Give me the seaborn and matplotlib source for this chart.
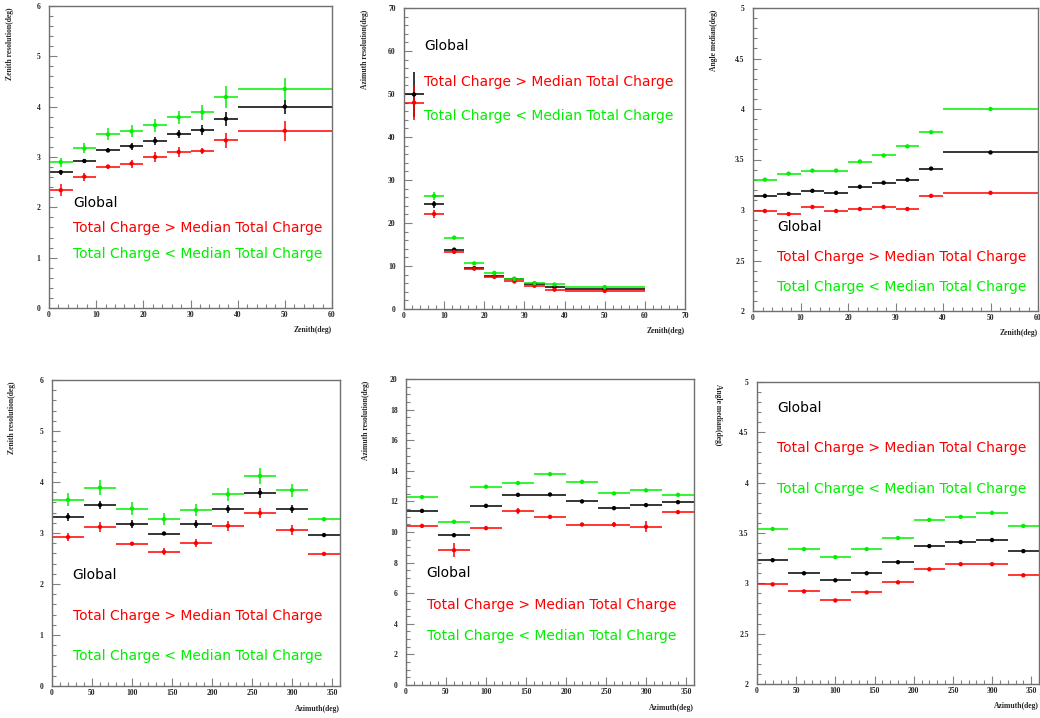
import numpy as np
import pandas as pd
import matplotlib
matplotlib.use("Agg")
import matplotlib.pyplot as plt
import seaborn as sns
from matplotlib.ticker import MultipleLocator

sns.set_theme(style="white")
plt.rcParams['font.family'] = ['DejaVu Sans']

# ---------------------------------------------------------------- data
zenith_edges = [0, 5, 10, 15, 20, 25, 30, 35, 40, 60]
azimuth_edges = [0, 40, 80, 120, 160, 200, 240, 280, 320, 360]

series_names = ["Global",
                "Total Charge > Median Total Charge",
                "Total Charge < Median Total Charge"]

# Zenith resolution vs zenith
zr_zen_global = [2.70, 2.92, 3.13, 3.21, 3.32, 3.46, 3.53, 3.76, 4.00]
zr_zen_global_err = [0.05, 0.04, 0.04, 0.07, 0.08, 0.08, 0.10, 0.14, 0.14]
zr_zen_high = [2.34, 2.61, 2.81, 2.87, 3.00, 3.10, 3.12, 3.33, 3.52]
zr_zen_high_err = [0.12, 0.08, 0.04, 0.08, 0.09, 0.10, 0.06, 0.15, 0.20]
zr_zen_low = [2.90, 3.17, 3.45, 3.51, 3.63, 3.79, 3.89, 4.19, 4.35]
zr_zen_low_err = [0.09, 0.10, 0.12, 0.12, 0.13, 0.13, 0.15, 0.22, 0.21]

# Azimuth resolution vs zenith
ar_zen_global = [49.9, 24.4, 13.8, 9.5, 7.6, 7.0, 5.9, 5.1, 4.65]
ar_zen_global_err = [5.3, 0.8, 0.3, 0.3, 0.3, 0.3, 0.2, 0.2, 0.2]
ar_zen_high = [48.0, 22.1, 13.3, 9.4, 7.5, 6.4, 5.4, 4.5, 4.2]
ar_zen_high_err = [4.0, 1.0, 0.4, 0.3, 0.3, 0.3, 0.2, 0.2, 0.2]
ar_zen_low = [np.nan, 26.3, 16.6, 10.6, 8.4, 7.0, 6.0, 5.7, 5.1]
ar_zen_low_err = [0.0, 1.0, 0.3, 0.3, 0.3, 0.3, 0.2, 0.2, 0.2]

# Angle median vs zenith
am_zen_global = [3.14, 3.16, 3.19, 3.17, 3.23, 3.27, 3.30, 3.41, 3.57]
am_zen_high = [2.99, 2.96, 3.03, 2.99, 3.01, 3.03, 3.01, 3.14, 3.17]
am_zen_low = [3.30, 3.36, 3.39, 3.39, 3.48, 3.54, 3.63, 3.77, 4.00]

# Zenith resolution vs azimuth
zr_az_global = [3.32, 3.55, 3.17, 2.99, 3.17, 3.47, 3.79, 3.47, 2.96]
zr_az_global_err = [0.08, 0.08, 0.08, 0.03, 0.08, 0.08, 0.10, 0.08, 0.03]
zr_az_high = [2.92, 3.12, 2.79, 2.63, 2.80, 3.14, 3.39, 3.06, 2.59]
zr_az_high_err = [0.08, 0.10, 0.03, 0.07, 0.08, 0.10, 0.10, 0.10, 0.03]
zr_az_low = [3.65, 3.89, 3.48, 3.27, 3.45, 3.76, 4.12, 3.84, 3.27]
zr_az_low_err = [0.13, 0.15, 0.12, 0.12, 0.12, 0.13, 0.15, 0.13, 0.03]

# Azimuth resolution vs azimuth
ar_az_global = [11.38, 9.79, 11.71, 12.43, 12.45, 12.00, 11.56, 11.76, 11.95]
ar_az_global_err = [0.1, 0.12, 0.1, 0.1, 0.1, 0.1, 0.1, 0.1, 0.1]
ar_az_high = [10.40, 8.81, 10.25, 11.38, 10.99, 10.49, 10.49, 10.34, 11.30]
ar_az_high_err = [0.1, 0.45, 0.15, 0.2, 0.15, 0.1, 0.15, 0.35, 0.1]
ar_az_low = [12.28, 10.67, 12.96, 13.20, 13.78, 13.28, 12.52, 12.72, 12.43]
ar_az_low_err = [0.1, 0.12, 0.1, 0.1, 0.1, 0.1, 0.1, 0.1, 0.1]

# Angle median vs azimuth
am_az_global = [3.23, 3.10, 3.03, 3.10, 3.21, 3.37, 3.41, 3.43, 3.32]
am_az_high = [2.99, 2.92, 2.83, 2.91, 3.01, 3.14, 3.19, 3.19, 3.08]
am_az_low = [3.54, 3.34, 3.26, 3.34, 3.45, 3.63, 3.66, 3.70, 3.57]

small_err = [0.008] * 9

colors = {series_names[0]: "#000000",
          series_names[1]: "#ff0000",
          series_names[2]: "#00f000"}

tick_font = dict(family="Liberation Serif", weight="bold", size=5.5)
W, H = 1040, 718


def frame(left, right, top, bottom):
    return [left / W, 1 - bottom / H, (right - left) / W, (bottom - top) / H]


def draw_panel(ax, edges, values, errors, xlim, ylim, xmaj, xmin, ymaj, ymin,
               xlabel, ylabel, text_x, text_y, ylabel_rot=90):
    edges = np.asarray(edges, dtype=float)
    centers = 0.5 * (edges[:-1] + edges[1:])
    half = 0.5 * np.diff(edges)

    rows = []
    for name, vals in zip(series_names, values):
        for c, v in zip(centers, vals):
            rows.append({"x": c, "y": v, "series": name})
    df = pd.DataFrame(rows)

    for name, vals, errs in zip(series_names, values, errors):
        ax.errorbar(centers, vals, xerr=half, yerr=errs, fmt="none",
                    ecolor=colors[name], elinewidth=1.1, capsize=0, zorder=2)
    sns.scatterplot(data=df, x="x", y="y", hue="series", palette=colors,
                    hue_order=series_names, marker="o", s=10, linewidth=0,
                    legend=False, ax=ax, zorder=3)

    ax.set_xlim(*xlim)
    ax.set_ylim(*ylim)
    ax.xaxis.set_major_locator(MultipleLocator(xmaj))
    ax.xaxis.set_minor_locator(MultipleLocator(xmin))
    ax.yaxis.set_major_locator(MultipleLocator(ymaj))
    ax.yaxis.set_minor_locator(MultipleLocator(ymin))
    ax.tick_params(which="both", direction="in", top=False, right=False,
                   left=True, bottom=True, color="#808080", width=0.8)
    ax.tick_params(which="major", length=5.5)
    ax.tick_params(which="minor", length=3)
    ax.tick_params(axis="y", which="major", pad=6)
    ax.tick_params(axis="x", which="major", pad=2)
    ax.set_xticklabels([f"{t:g}" for t in ax.get_xticks()], fontdict=tick_font)
    ax.set_yticklabels([f"{t:g}" for t in ax.get_yticks()], fontdict=tick_font)
    ax.set_xlim(*xlim)
    ax.set_ylim(*ylim)
    ax.set_xlabel("")
    ax.set_ylabel("")
    for s in ax.spines.values():
        s.set_color("#707070")
        s.set_linewidth(1.0)
        s.set_visible(True)

    ax.text(1.0, -0.074, xlabel, transform=ax.transAxes, ha="right",
            va="center", family="Liberation Serif", weight="bold", size=5.5)
    if ylabel_rot == 90:
        ax.text(-0.138, 0.995, ylabel, transform=ax.transAxes, rotation=90,
                rotation_mode="anchor", ha="right", va="center",
                family="Liberation Serif", weight="bold", size=5.5)
    else:
        ax.text(-0.138, 0.995, ylabel, transform=ax.transAxes, rotation=270,
                rotation_mode="anchor", ha="left", va="center",
                family="Liberation Serif", weight="bold", size=5.5)

    for name, ty in zip(series_names, text_y):
        ax.text(text_x, ty, name, color=colors[name], ha="left", va="center",
                fontsize=10)


fig = plt.figure(figsize=(10.4, 7.18), dpi=100)
fig.patch.set_facecolor("white")

ax1 = fig.add_axes(frame(49, 332, 6, 308))
draw_panel(ax1, zenith_edges,
           [zr_zen_global, zr_zen_high, zr_zen_low],
           [zr_zen_global_err, zr_zen_high_err, zr_zen_low_err],
           (0, 60), (0, 6), 10, 2, 1, 0.2,
           "Zenith(deg)", "Zenith resolution(deg)", 5.1, [2.08, 1.58, 1.08])

ax2 = fig.add_axes(frame(404, 685, 8, 309))
draw_panel(ax2, zenith_edges,
           [ar_zen_global, ar_zen_high, ar_zen_low],
           [ar_zen_global_err, ar_zen_high_err, ar_zen_low_err],
           (0, 70), (0, 70), 10, 2, 10, 2,
           "Zenith(deg)", "Azimuth resolution(deg)", 5.1, [61.1, 52.9, 44.8])

ax3 = fig.add_axes(frame(753, 1038, 8, 311))
draw_panel(ax3, zenith_edges,
           [am_zen_global, am_zen_high, am_zen_low],
           [small_err, small_err, small_err],
           (0, 60), (2, 5), 10, 2, 0.5, 0.1,
           "Zenith(deg)", "Angle median(deg)", 5.05, [2.83, 2.53, 2.24])

ax4 = fig.add_axes(frame(52, 340, 380, 686))
draw_panel(ax4, azimuth_edges,
           [zr_az_global, zr_az_high, zr_az_low],
           [zr_az_global_err, zr_az_high_err, zr_az_low_err],
           (0, 360), (0, 6), 50, 10, 1, 0.2,
           "Azimuth(deg)", "Zenith resolution(deg)", 25.8, [2.18, 1.37, 0.58])

ax5 = fig.add_axes(frame(406, 694, 379, 685))
draw_panel(ax5, azimuth_edges,
           [ar_az_global, ar_az_high, ar_az_low],
           [ar_az_global_err, ar_az_high_err, ar_az_low_err],
           (0, 360), (0, 20), 50, 10, 2, 0.5,
           "Azimuth(deg)", "Azimuth resolution(deg)", 25.8, [7.31, 5.23, 3.23])

ax6 = fig.add_axes(frame(757, 1039, 382, 684))
draw_panel(ax6, azimuth_edges,
           [am_az_global, am_az_high, am_az_low],
           [small_err, small_err, small_err],
           (0, 360), (2, 5), 50, 10, 0.5, 0.1,
           "Azimuth(deg)", "Angle median(deg)", 26, [4.74, 4.34, 3.94],
           ylabel_rot=270)

fig.savefig("out.png", dpi=100, facecolor="white")
